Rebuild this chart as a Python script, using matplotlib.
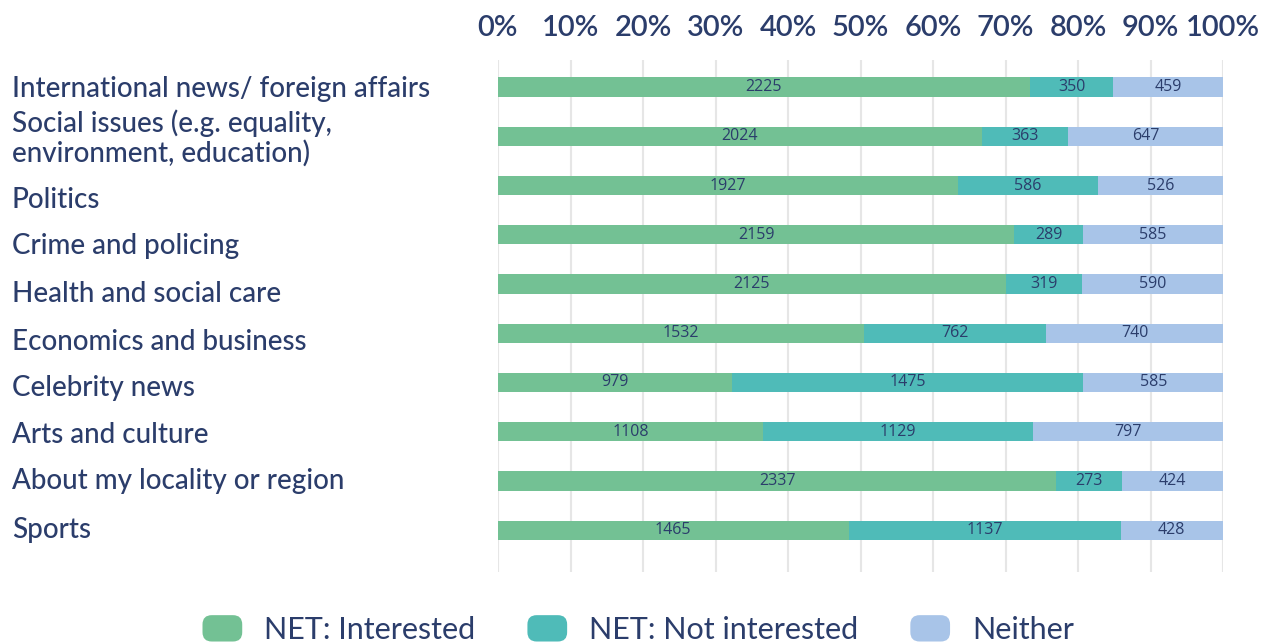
import matplotlib
matplotlib.use("Agg")
import matplotlib.pyplot as plt
import matplotlib.transforms as mtransforms
import numpy as np
from matplotlib.patches import FancyBboxPatch, Patch
from matplotlib.legend_handler import HandlerPatch

categories = [
    "International news/ foreign affairs",
    "Social issues (e.g. equality,\nenvironment, education)",
    "Politics",
    "Crime and policing",
    "Health and social care",
    "Economics and business",
    "Celebrity news",
    "Arts and culture",
    "About my locality or region",
    "Sports",
]
interested = [2225, 2024, 1927, 2159, 2125, 1532, 979, 1108, 2337, 1465]
not_interested = [350, 363, 586, 289, 319, 762, 1475, 1129, 273, 1137]
neither = [459, 647, 526, 585, 590, 740, 585, 797, 424, 428]
series_names = ["NET: Interested", "NET: Not interested", "Neither"]
colors = ["#73C194", "#4FBBB8", "#A8C4E8"]
xtick_labels = [f"{v}%" for v in range(0, 101, 10)]

navy = "#2B3D6B"
fig = plt.figure(figsize=(12.79, 6.42), dpi=100)
ax = fig.add_axes([498 / 1279, 1 - 572 / 642, 725 / 1279, 512 / 642])

data = np.array([interested, not_interested, neither], dtype=float)
totals = data.sum(axis=0)
pct = data / totals * 100
y = np.arange(len(categories))
left = np.zeros(len(categories))
for i in range(3):
    ax.barh(y, pct[i], left=left, height=0.39, color=colors[i],
            edgecolor="none", zorder=3, label=series_names[i])
    for j in range(len(categories)):
        ax.text(left[j] + pct[i][j] / 2, y[j], f"{int(data[i][j])}",
                ha="center", va="center", fontsize=11.5, color=navy,
                family="Open Sans", zorder=4)
    left += pct[i]

ax.set_xlim(0, 100)
ax.set_ylim(len(categories) - 1 + 0.85, -0.55)
ax.set_xticks(np.arange(0, 101, 10))
ax.set_xticklabels(xtick_labels)
ax.xaxis.tick_top()
ax.tick_params(axis="x", length=0, pad=13.5, labelsize=21, labelcolor=navy)
for lbl in ax.get_xticklabels():
    lbl.set_family("Lato")
    lbl.set_fontweight("semibold")
ax.grid(axis="x", color="#E6E6E6", linewidth=1.5, zorder=0)
ax.set_yticks(y)
ax.set_yticklabels(categories)
ax.tick_params(axis="y", length=0, pad=(498 - 12) * 72 / 100, labelsize=20,
               labelcolor=navy)
# small vertical nudges of the category labels (pixels, downward positive)
label_nudge_px = [-1, -2, 12, 9, 8, 6, 3, 1, -2, -3]
for lbl, dpx in zip(ax.get_yticklabels(), label_nudge_px):
    lbl.set_horizontalalignment("left")
    lbl.set_family("Lato")
    lbl.set_fontweight("medium")
    lbl.set_linespacing(1.1)
    lbl.set_transform(lbl.get_transform() +
                      mtransforms.ScaledTranslation(0, -dpx / 100, fig.dpi_scale_trans))
for s in ax.spines.values():
    s.set_visible(False)


class RoundHandler(HandlerPatch):
    def create_artists(self, legend, orig_handle, xdescent, ydescent, width,
                       height, fontsize, trans):
        p = FancyBboxPatch((-xdescent, -ydescent), width, height,
                           boxstyle="round,pad=0,rounding_size=%f" % (height * 0.35),
                           facecolor=orig_handle.get_facecolor(),
                           edgecolor="none", transform=trans)
        return [p]


handles = [Patch(facecolor=c) for c in colors]
leg = fig.legend(handles, series_names, loc="center",
                 bbox_to_anchor=(0.499, 12.5 / 642), ncol=3, frameon=False,
                 prop={"family": "Lato", "size": 22},
                 handlelength=1.3, handleheight=0.95, handletextpad=0.72,
                 columnspacing=1.7,
                 handler_map={Patch: RoundHandler()})
for t in leg.get_texts():
    t.set_color(navy)

fig.savefig("out.png", dpi=100)
